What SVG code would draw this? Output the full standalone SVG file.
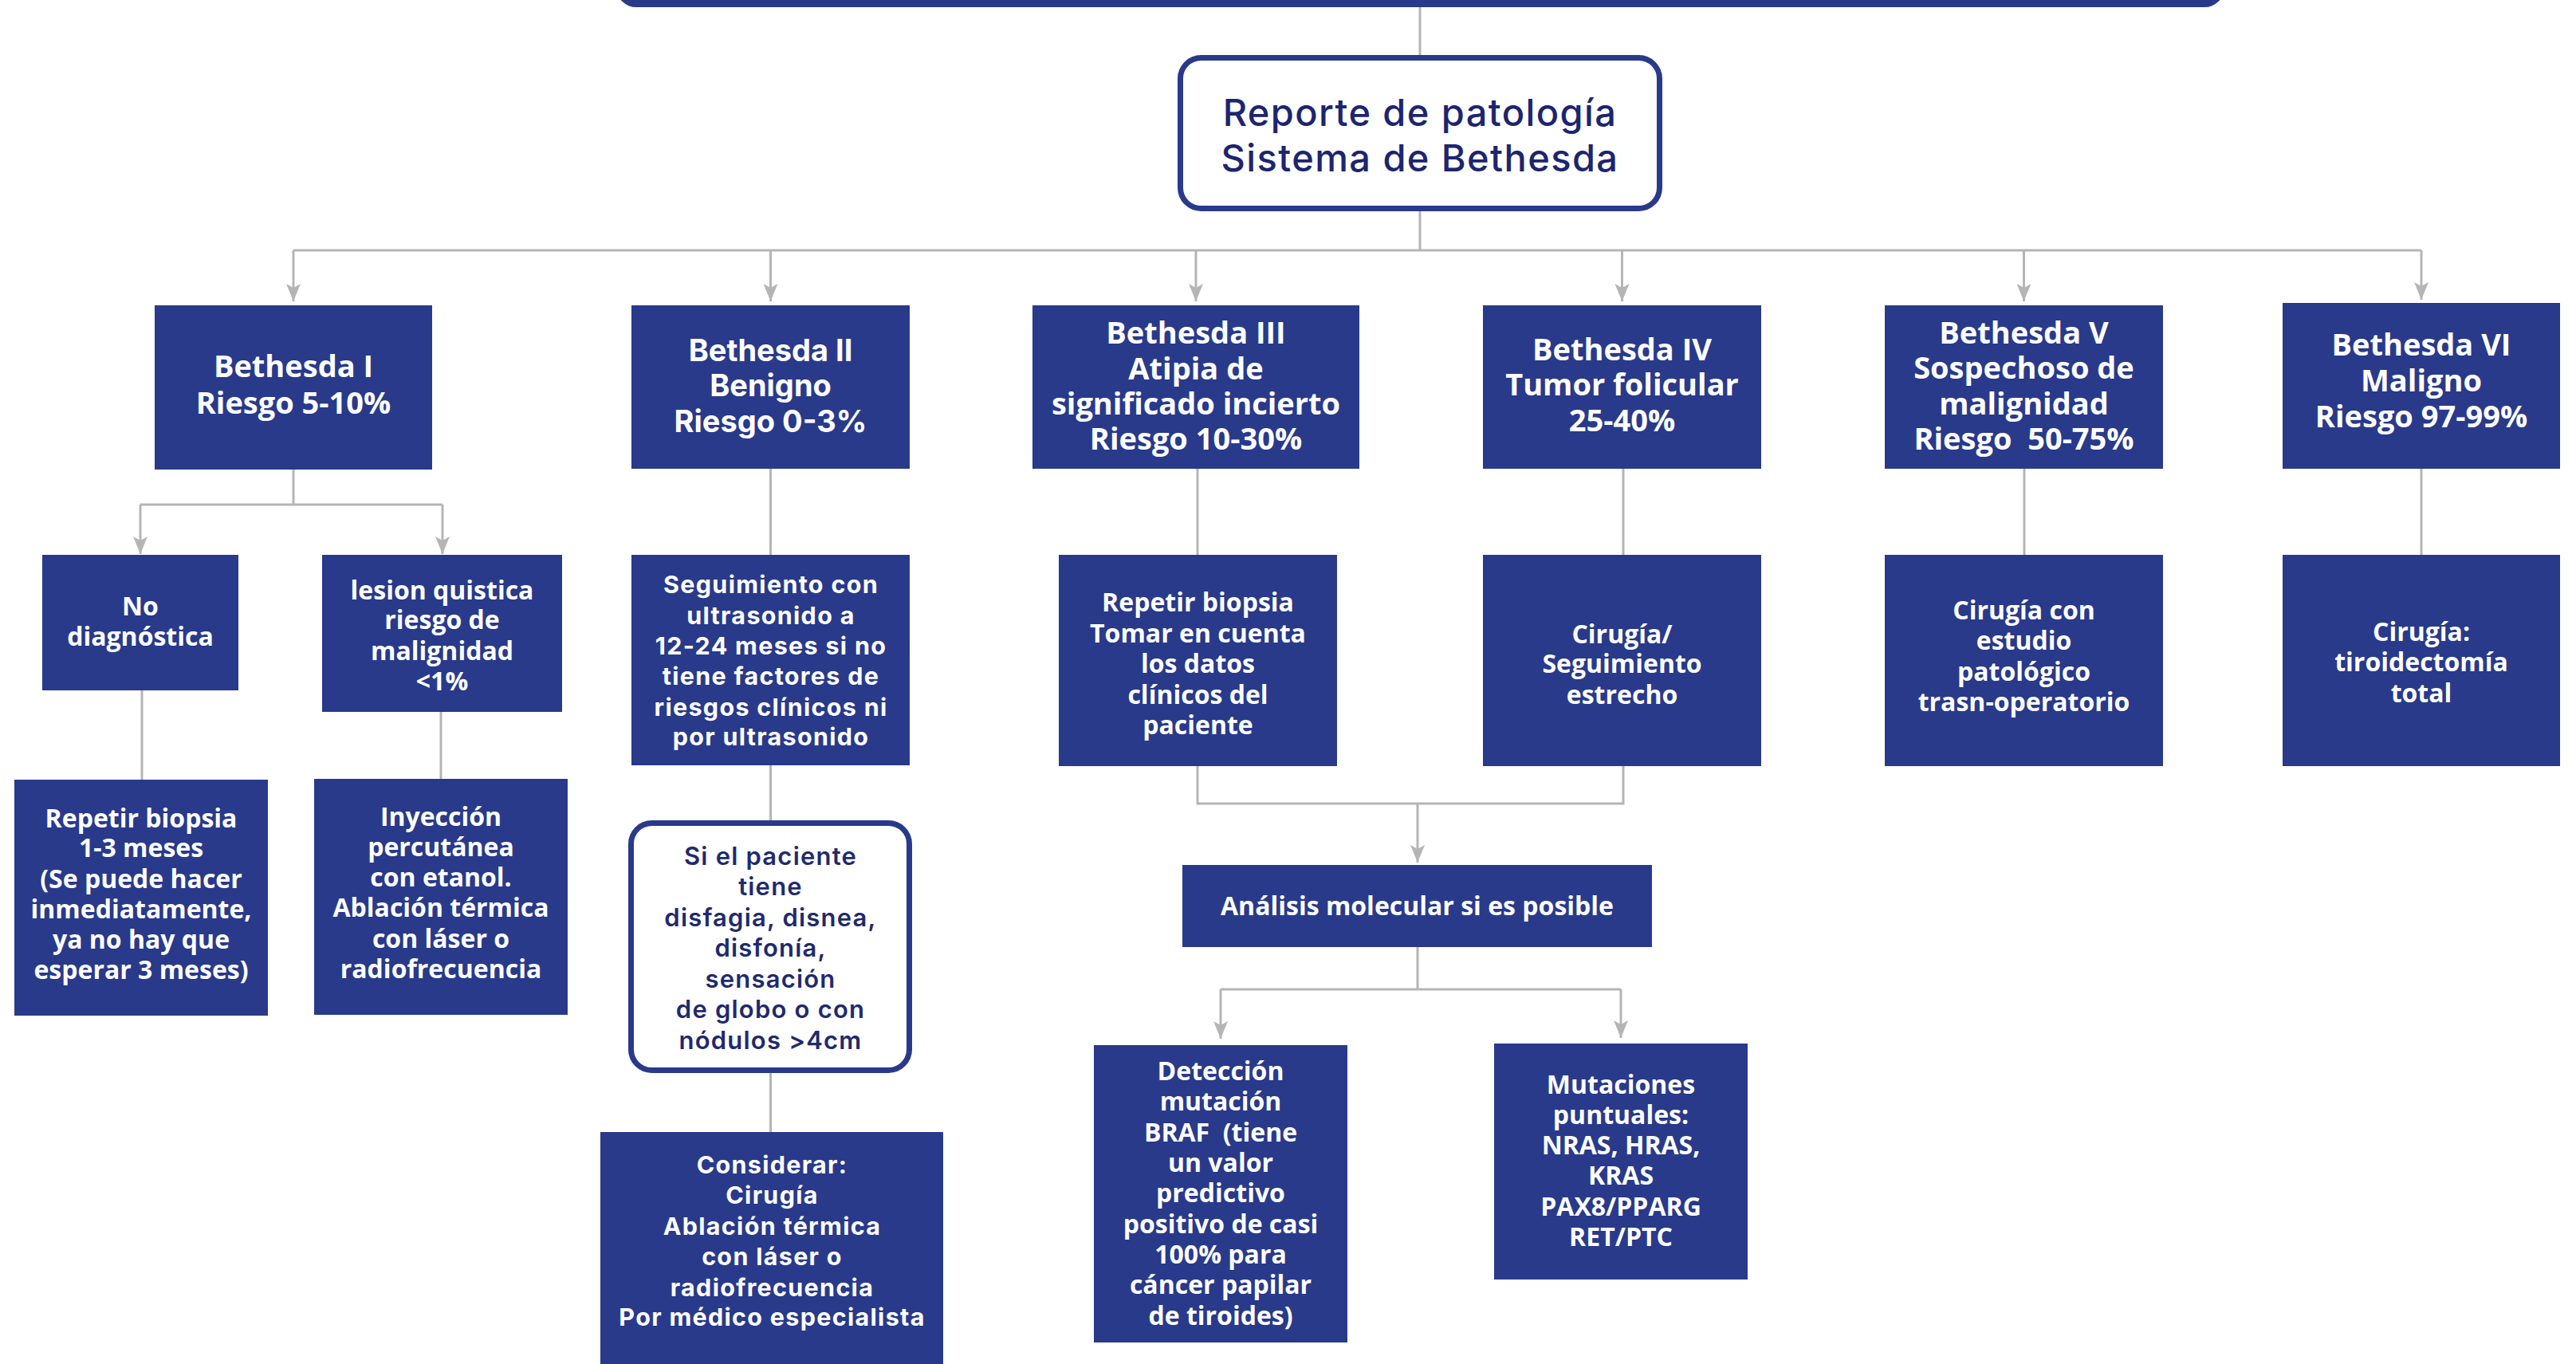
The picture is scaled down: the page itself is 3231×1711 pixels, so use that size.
<svg xmlns="http://www.w3.org/2000/svg" width="3231" height="1711" viewBox="0 0 3231 1711">
<style>
.box{fill:#293a8b}
.obox{fill:#ffffff;stroke:#293a8b;stroke-width:7}
.c{fill:none;stroke:#b5b5b5;stroke-width:3}
.t1{font-family:"Open Sans","Noto Sans","DejaVu Sans",sans-serif;font-weight:700;font-size:38px;fill:#ffffff;text-anchor:middle}
.t2{font-family:"Open Sans","Noto Sans","DejaVu Sans",sans-serif;font-weight:700;font-size:32px;fill:#ffffff;text-anchor:middle}
.m1{font-family:Inter,"DejaVu Sans",sans-serif;font-weight:700;font-size:38px;fill:#ffffff;text-anchor:middle}
.m2{font-family:Inter,"DejaVu Sans",sans-serif;font-weight:700;font-size:30.5px;letter-spacing:1.3px;fill:#ffffff;text-anchor:middle}
.m2n{font-family:Inter,"DejaVu Sans",sans-serif;font-weight:600;font-size:31px;letter-spacing:1.2px;fill:#1f2a6e;text-anchor:middle}
.rep{font-family:Inter,"DejaVu Sans",sans-serif;font-weight:500;font-size:47px;letter-spacing:1.4px;fill:#1d2570;text-anchor:middle}
</style>
<defs>
<marker id="arr" markerUnits="userSpaceOnUse" viewBox="0 0 22 18" refX="22" refY="9" markerWidth="22" markerHeight="18" orient="auto">
<path d="M0,0 L22,9 L0,18 L5,9 Z" fill="#b5b5b5"/>
</marker>
</defs>

<g id="connectors">
<path class="c" d="M1781,9 V69"/>
<path class="c" d="M1781,265 V314"/>
<path class="c" d="M368,314 H3037"/>
<path class="c" d="M368,314 V378" marker-end="url(#arr)"/>
<path class="c" d="M966.5,314 V378" marker-end="url(#arr)"/>
<path class="c" d="M1500,314 V378" marker-end="url(#arr)"/>
<path class="c" d="M2034.5,314 V378" marker-end="url(#arr)"/>
<path class="c" d="M2538.5,314 V378" marker-end="url(#arr)"/>
<path class="c" d="M3037,314 V376" marker-end="url(#arr)"/>
<path class="c" d="M368,589 V633 M176,633 H555"/>
<path class="c" d="M176,633 V695" marker-end="url(#arr)"/>
<path class="c" d="M555,633 V695" marker-end="url(#arr)"/>
<path class="c" d="M178,866 V978"/>
<path class="c" d="M553,893 V977"/>
<path class="c" d="M966.5,588 V696"/>
<path class="c" d="M966.5,960 V1029"/>
<path class="c" d="M966.5,1346 V1420"/>
<path class="c" d="M1502,588 V696"/>
<path class="c" d="M2036,588 V696"/>
<path class="c" d="M2539,588 V696"/>
<path class="c" d="M3037,588 V696"/>
<path class="c" d="M1502,961 V1008 H2036 V961"/>
<path class="c" d="M1778,1008 V1082" marker-end="url(#arr)"/>
<path class="c" d="M1778,1188 V1241 M1531,1241 H2033"/>
<path class="c" d="M1531,1241 V1303" marker-end="url(#arr)"/>
<path class="c" d="M2033,1241 V1302" marker-end="url(#arr)"/>
</g>

<g id="top-bar">
<rect class="box" x="773" y="-40" width="2017" height="49" rx="25"/>
</g>

<g id="reporte">
<rect class="obox" x="1480.5" y="72.5" width="601" height="189" rx="26"/>
<text class="rep" x="1781" y="158">Reporte de patología</text>
<text class="rep" x="1781" y="215">Sistema de Bethesda</text>
</g>

<g id="bethesda-1">
<rect class="box" x="194" y="383" width="348" height="206"/>
<text class="t1" x="368" y="473">Bethesda I</text>
<text class="t1" x="368" y="519">Riesgo 5-10%</text>
</g>

<g id="bethesda-2">
<rect class="box" x="792" y="383" width="349" height="205"/>
<text class="m1" x="966.5" y="453">Bethesda II</text>
<text class="m1" x="966.5" y="497">Benigno</text>
<text class="m1" x="966.5" y="542">Riesgo 0-3%</text>
</g>

<g id="bethesda-3">
<rect class="box" x="1295" y="383" width="410" height="205"/>
<text class="t1" x="1500" y="431">Bethesda III</text>
<text class="t1" x="1500" y="476">Atipia de</text>
<text class="t1" x="1500" y="520">significado incierto</text>
<text class="t1" x="1500" y="564">Riesgo 10-30%</text>
</g>

<g id="bethesda-4">
<rect class="box" x="1860" y="383" width="349" height="205"/>
<text class="t1" x="2034.5" y="452">Bethesda IV</text>
<text class="t1" x="2034.5" y="496">Tumor folicular</text>
<text class="t1" x="2034.5" y="541">25-40%</text>
</g>

<g id="bethesda-5">
<rect class="box" x="2364" y="383" width="349" height="205"/>
<text class="t1" x="2538.5" y="431">Bethesda V</text>
<text class="t1" x="2538.5" y="475">Sospechoso de</text>
<text class="t1" x="2538.5" y="520">malignidad</text>
<text class="t1" x="2538.5" y="564">Riesgo &#160;50-75%</text>
</g>

<g id="bethesda-6">
<rect class="box" x="2863" y="380" width="348" height="208"/>
<text class="t1" x="3037" y="446">Bethesda VI</text>
<text class="t1" x="3037" y="491">Maligno</text>
<text class="t1" x="3037" y="536">Riesgo 97-99%</text>
</g>

<g id="no-diagnostica">
<rect class="box" x="53" y="696" width="246" height="170"/>
<text class="t2" x="176" y="772">No</text>
<text class="t2" x="176" y="810">diagnóstica</text>
</g>

<g id="lesion-quistica">
<rect class="box" x="404" y="696" width="301" height="197"/>
<text class="t2" x="554.5" y="752">lesion quistica</text>
<text class="t2" x="554.5" y="789">riesgo de</text>
<text class="t2" x="554.5" y="828">malignidad</text>
<text class="t2" x="554.5" y="866">&lt;1%</text>
</g>

<g id="repetir-biopsia-1">
<rect class="box" x="18" y="978" width="318" height="296"/>
<text class="t2" x="177" y="1038">Repetir biopsia</text>
<text class="t2" x="177" y="1075">1-3 meses</text>
<text class="t2" x="177" y="1114">(Se puede hacer</text>
<text class="t2" x="177" y="1152">inmediatamente,</text>
<text class="t2" x="177" y="1190">ya no hay que</text>
<text class="t2" x="177" y="1228">esperar 3 meses)</text>
</g>

<g id="inyeccion">
<rect class="box" x="394" y="977" width="318" height="296"/>
<text class="t2" x="553" y="1036">Inyección</text>
<text class="t2" x="553" y="1074">percutánea</text>
<text class="t2" x="553" y="1112">con etanol.</text>
<text class="t2" x="553" y="1150">Ablación térmica</text>
<text class="t2" x="553" y="1189">con láser o</text>
<text class="t2" x="553" y="1227">radiofrecuencia</text>
</g>

<g id="seguimiento">
<rect class="box" x="792" y="696" width="349" height="264"/>
<text class="m2" x="967" y="744">Seguimiento con</text>
<text class="m2" x="967" y="783">ultrasonido a</text>
<text class="m2" x="967" y="821">12-24 meses si no</text>
<text class="m2" x="967" y="859">tiene factores de</text>
<text class="m2" x="967" y="898">riesgos clínicos ni</text>
<text class="m2" x="967" y="935">por ultrasonido</text>
</g>

<g id="si-paciente">
<rect class="obox" x="791.5" y="1032.5" width="349" height="310" rx="26"/>
<text class="m2n" x="966.5" y="1085">Si el paciente</text>
<text class="m2n" x="966.5" y="1123">tiene</text>
<text class="m2n" x="966.5" y="1162">disfagia, disnea,</text>
<text class="m2n" x="966.5" y="1200">disfonía,</text>
<text class="m2n" x="966.5" y="1239">sensación</text>
<text class="m2n" x="966.5" y="1277">de globo o con</text>
<text class="m2n" x="966.5" y="1316">nódulos &gt;4cm</text>
</g>

<g id="considerar">
<rect class="box" x="753" y="1420" width="430" height="300"/>
<text class="m2" x="968.5" y="1472">Considerar:</text>
<text class="m2" x="968.5" y="1510">Cirugía</text>
<text class="m2" x="968.5" y="1549">Ablación térmica</text>
<text class="m2" x="968.5" y="1587">con láser o</text>
<text class="m2" x="968.5" y="1626">radiofrecuencia</text>
<text class="m2" x="968.5" y="1663">Por médico especialista</text>
</g>

<g id="repetir-biopsia-3">
<rect class="box" x="1328" y="696" width="349" height="265"/>
<text class="t2" x="1502.5" y="767">Repetir biopsia</text>
<text class="t2" x="1502.5" y="806">Tomar en cuenta</text>
<text class="t2" x="1502.5" y="844">los datos</text>
<text class="t2" x="1502.5" y="883">clínicos del</text>
<text class="t2" x="1502.5" y="921">paciente</text>
</g>

<g id="cirugia-seguimiento">
<rect class="box" x="1860" y="696" width="349" height="265"/>
<text class="t2" x="2034.5" y="807">Cirugía/</text>
<text class="t2" x="2034.5" y="844">Seguimiento</text>
<text class="t2" x="2034.5" y="883">estrecho</text>
</g>

<g id="cirugia-estudio">
<rect class="box" x="2364" y="696" width="349" height="265"/>
<text class="t2" x="2538.5" y="777">Cirugía con</text>
<text class="t2" x="2538.5" y="815">estudio</text>
<text class="t2" x="2538.5" y="854">patológico</text>
<text class="t2" x="2538.5" y="892">trasn-operatorio</text>
</g>

<g id="cirugia-total">
<rect class="box" x="2863" y="696" width="348" height="265"/>
<text class="t2" x="3037" y="804">Cirugía:</text>
<text class="t2" x="3037" y="842">tiroidectomía</text>
<text class="t2" x="3037" y="881">total</text>
</g>

<g id="analisis-molecular">
<rect class="box" x="1483" y="1085" width="589" height="103"/>
<text class="t2" x="1777.5" y="1148">Análisis molecular si es posible</text>
</g>

<g id="deteccion-braf">
<rect class="box" x="1372" y="1311" width="318" height="373"/>
<text class="t2" x="1531" y="1355">Detección</text>
<text class="t2" x="1531" y="1393">mutación</text>
<text class="t2" x="1531" y="1432">BRAF &#160;(tiene</text>
<text class="t2" x="1531" y="1470">un valor</text>
<text class="t2" x="1531" y="1508">predictivo</text>
<text class="t2" x="1531" y="1547">positivo de casi</text>
<text class="t2" x="1531" y="1585">100% para</text>
<text class="t2" x="1531" y="1623">cáncer papilar</text>
<text class="t2" x="1531" y="1662">de tiroides)</text>
</g>

<g id="mutaciones">
<rect class="box" x="1874" y="1309" width="318" height="296"/>
<text class="t2" x="2033" y="1372">Mutaciones</text>
<text class="t2" x="2033" y="1410">puntuales:</text>
<text class="t2" x="2033" y="1448">NRAS, HRAS,</text>
<text class="t2" x="2033" y="1486">KRAS</text>
<text class="t2" x="2033" y="1525">PAX8/PPARG</text>
<text class="t2" x="2033" y="1563">RET/PTC</text>
</g>
</svg>
